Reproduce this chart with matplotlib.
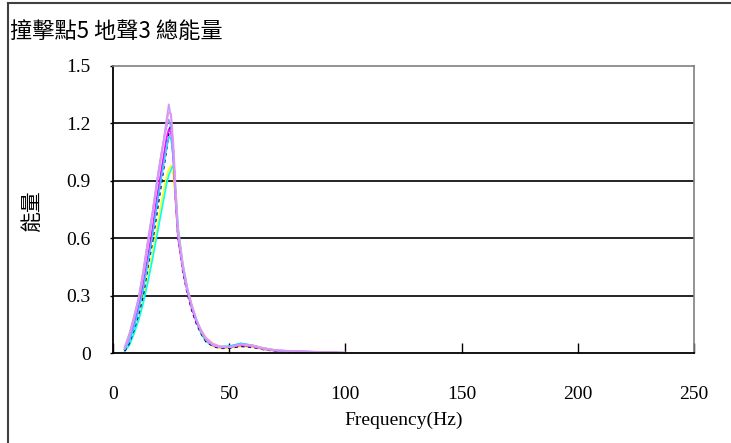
import matplotlib
matplotlib.use("Agg")
import matplotlib.pyplot as plt
from matplotlib.lines import Line2D

# ---- data ----
freq = [5, 7, 9, 11, 13, 15, 17, 19, 21, 23, 24, 25, 26, 27, 28, 30, 32, 34, 36, 38,
        40, 43, 46, 50, 55, 60, 65, 70, 75, 80, 85, 90, 95, 100]

s_lavender = [0.02, 0.08, 0.17, 0.27, 0.40, 0.56, 0.72, 0.89, 1.04, 1.22, 1.30, 1.23, 1.05, 0.80, 0.62,
              0.45, 0.33, 0.24, 0.17, 0.11, 0.07, 0.04, 0.03, 0.03, 0.045, 0.035, 0.02, 0.012, 0.01,
              0.008, 0.006, 0.004, 0.002, 0.001]
s_pink = [0.03, 0.09, 0.18, 0.28, 0.42, 0.58, 0.73, 0.90, 1.05, 1.20, 1.26, 1.25, 1.10, 0.86, 0.65,
          0.47, 0.34, 0.25, 0.17, 0.12, 0.08, 0.05, 0.035, 0.03, 0.045, 0.04, 0.025, 0.015, 0.012,
          0.010, 0.008, 0.005, 0.003, 0.002]
s_navy = [0.01, 0.05, 0.12, 0.20, 0.30, 0.45, 0.58, 0.74, 0.90, 1.06, 1.15, 1.20, 1.05, 0.80, 0.60,
          0.43, 0.31, 0.22, 0.15, 0.10, 0.06, 0.035, 0.025, 0.025, 0.035, 0.03, 0.018, 0.010, 0.008,
          0.006, 0.004, 0.003, 0.002, 0.001]
s_magenta = [0.02, 0.07, 0.15, 0.24, 0.36, 0.50, 0.65, 0.82, 0.97, 1.12, 1.17, 1.15, 1.00, 0.78, 0.60,
             0.44, 0.32, 0.23, 0.16, 0.11, 0.07, 0.04, 0.03, 0.03, 0.04, 0.035, 0.02, 0.012, 0.009,
             0.007, 0.005, 0.003, 0.002, 0.001]
s_lightblue = [0.02, 0.06, 0.13, 0.22, 0.33, 0.47, 0.61, 0.78, 0.93, 1.07, 1.13, 1.12, 1.02, 0.82, 0.63,
               0.46, 0.33, 0.24, 0.17, 0.11, 0.07, 0.045, 0.035, 0.035, 0.05, 0.04, 0.025, 0.015, 0.01,
               0.008, 0.006, 0.004, 0.002, 0.001]
s_cyan = [0.01, 0.04, 0.10, 0.17, 0.26, 0.37, 0.49, 0.62, 0.75, 0.88, 0.93, 0.96, 0.98, 0.85, 0.66,
          0.47, 0.34, 0.24, 0.16, 0.10, 0.06, 0.04, 0.03, 0.035, 0.05, 0.04, 0.022, 0.012, 0.008,
          0.006, 0.004, 0.003, 0.002, 0.001]
s_yellow = [0.01, 0.04, 0.10, 0.18, 0.28, 0.40, 0.52, 0.66, 0.80, 0.92, 0.96, 0.98, 0.92, 0.78, 0.60,
            0.44, 0.32, 0.23, 0.16, 0.10, 0.06, 0.035, 0.025, 0.025, 0.035, 0.03, 0.018, 0.010, 0.007,
            0.005, 0.004, 0.003, 0.002, 0.001]
s_periwinkle = [0.03, 0.10, 0.19, 0.29, 0.43, 0.59, 0.74, 0.91, 1.06, 1.18, 1.22, 1.18, 1.02, 0.80, 0.62,
                0.45, 0.33, 0.24, 0.17, 0.11, 0.07, 0.045, 0.03, 0.03, 0.045, 0.04, 0.025, 0.015, 0.011,
                0.009, 0.007, 0.005, 0.003, 0.001]

series = [s_yellow, s_cyan, s_navy, s_magenta, s_lightblue, s_periwinkle, s_pink, s_lavender]
colors = ["#FFFF00", "#00FFFF", "#000080", "#FF00FF", "#33CCFF", "#9999FF", "#FF99CC", "#CC99FF"]
styles = ["-", "-", (0, (2, 2)), "-", "-", "-", "-", "-"]

x_ticks = [0, 50, 100, 150, 200, 250]
y_ticks = [0, 0.3, 0.6, 0.9, 1.2, 1.5]
y_tick_labels = ["0", "0.3", "0.6", "0.9", "1.2", "1.5"]
title = "撞擊點5 地聲3 總能量"
ylabel = "能量"
xlabel = "Frequency(Hz)"

# ---- figure ----
fig = plt.figure(figsize=(7.31, 4.43), dpi=100)
ax = fig.add_axes([113 / 731, (443 - 353) / 443, (694 - 113) / 731, (353 - 66) / 443])

for s, c, ls in zip(series, colors, styles):
    ax.plot(freq, s, color=c, lw=1.2, ls=ls)

ax.set_xlim(0, 250)
ax.set_ylim(0, 1.5)
ax.set_xticks(x_ticks)
ax.set_yticks(y_ticks)
ax.set_yticklabels(y_tick_labels)
for v in y_ticks[1:-1]:
    ax.axhline(v, color="black", lw=1.2, zorder=0)

serif = ["Liberation Serif", "DejaVu Serif"]
for lab in ax.get_xticklabels() + ax.get_yticklabels():
    lab.set_fontfamily(serif)
    lab.set_fontsize(14)
ax.tick_params(axis="x", direction="in", length=7, width=1, pad=24)
ax.tick_params(axis="y", direction="out", length=2, width=1, pad=14)

for side in ["left", "bottom"]:
    ax.spines[side].set_color("black")
    ax.spines[side].set_linewidth(1.3)
for side in ["top", "right"]:
    ax.spines[side].set_color("#808080")
    ax.spines[side].set_linewidth(1.2)

ax.set_xlabel(xlabel, fontfamily=serif, fontsize=14, labelpad=6)

cjk = ["Noto Sans CJK TC", "DejaVu Sans"]
fig.text(10 / 731, 1 - 31 / 443, title, fontfamily=cjk, fontsize=16,
         ha="left", va="center")
fig.text(32 / 731, 1 - 211 / 443, ylabel, fontfamily=cjk, fontsize=15,
         rotation=90, ha="center", va="center")

# outer chart frame (left and top edges visible)
fig.add_artist(Line2D([8 / 731, 8 / 731], [0, 1 - 3 / 443], transform=fig.transFigure,
                      color="#404040", lw=1.5))
fig.add_artist(Line2D([8 / 731, 1], [1 - 3 / 443, 1 - 3 / 443], transform=fig.transFigure,
                      color="#404040", lw=1.5))

fig.savefig("out.png", dpi=100)
